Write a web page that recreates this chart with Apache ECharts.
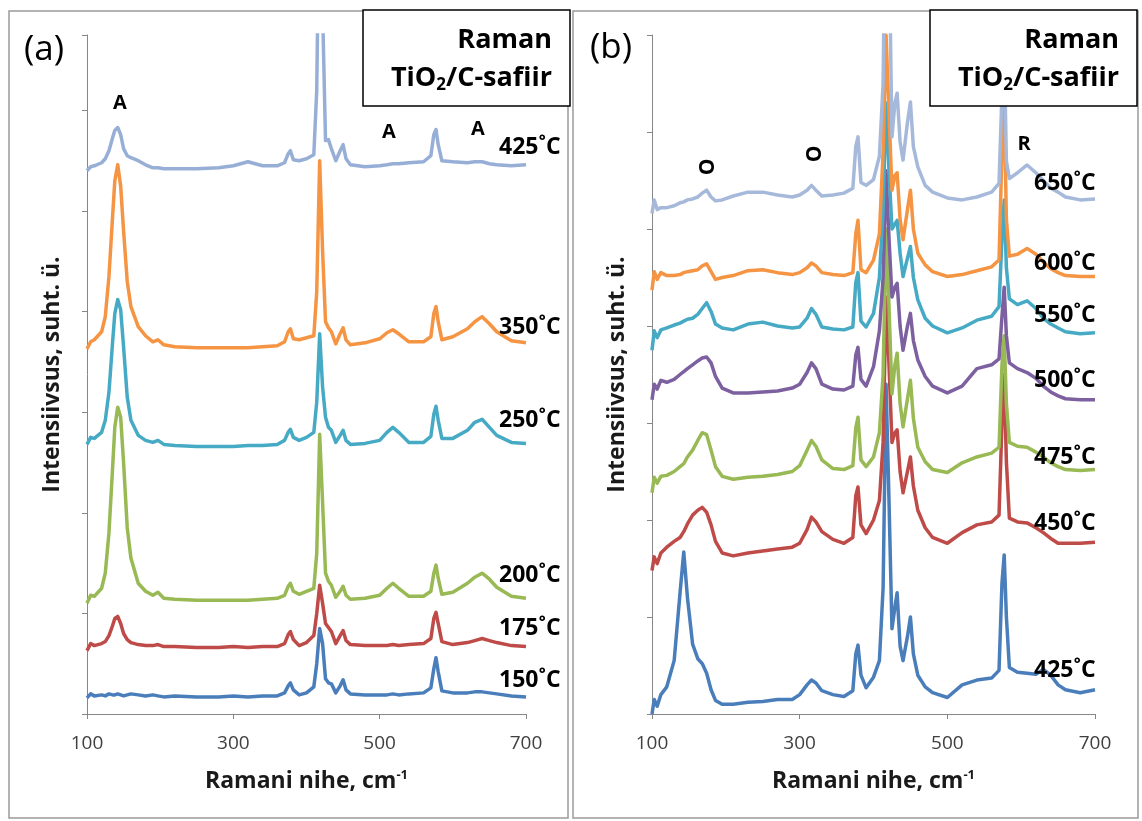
<!DOCTYPE html>
<html><head><meta charset="utf-8">
<script src="https://cdn.jsdelivr.net/npm/echarts@6/dist/echarts.min.js"></script>
<style>html,body{margin:0;padding:0;background:#fff}#c{width:1142px;height:821px}</style>
</head><body><div id="c"></div>
<script>
// ---------- Panel (a) data ----------
const xA = [100,105,110,120,125,130,135,138,142,146,150,155,160,170,180,190,197,205,220,250,280,300,320,340,360,370,375,378,382,390,400,410,414,418,422,426,430,434,440,446,450,454,460,480,500,510,518,526,540,560,570,574,577,580,585,600,620,630,640,650,660,680,700];
const a150 = [0.16,0.20,0.18,0.19,0.18,0.20,0.19,0.19,0.20,0.19,0.18,0.19,0.20,0.19,0.18,0.19,0.18,0.17,0.18,0.17,0.17,0.18,0.17,0.18,0.18,0.21,0.28,0.31,0.24,0.19,0.21,0.27,0.50,0.85,0.70,0.35,0.31,0.30,0.21,0.28,0.34,0.24,0.20,0.19,0.19,0.19,0.20,0.19,0.20,0.21,0.26,0.45,0.56,0.42,0.23,0.21,0.21,0.22,0.22,0.21,0.20,0.18,0.17];
const a175 = [0.63,0.70,0.68,0.70,0.72,0.78,0.88,0.95,0.97,0.90,0.80,0.74,0.71,0.69,0.68,0.68,0.69,0.67,0.67,0.66,0.66,0.67,0.66,0.67,0.67,0.70,0.79,0.82,0.74,0.68,0.71,0.78,1.00,1.28,1.10,0.90,0.86,0.82,0.70,0.78,0.83,0.73,0.69,0.68,0.68,0.68,0.69,0.68,0.69,0.70,0.75,0.95,1.01,0.90,0.72,0.69,0.71,0.73,0.75,0.73,0.71,0.68,0.67];
const a200 = [1.10,1.18,1.17,1.25,1.40,1.80,2.45,2.85,3.05,2.95,2.50,1.85,1.55,1.30,1.22,1.18,1.21,1.15,1.14,1.13,1.13,1.13,1.13,1.14,1.15,1.18,1.27,1.30,1.22,1.19,1.22,1.25,1.60,2.78,2.10,1.40,1.32,1.28,1.16,1.22,1.27,1.18,1.14,1.15,1.18,1.25,1.30,1.25,1.17,1.17,1.22,1.40,1.48,1.35,1.19,1.21,1.30,1.36,1.40,1.34,1.26,1.17,1.15];
const a250 = [2.68,2.75,2.74,2.80,2.92,3.20,3.70,3.98,4.12,4.02,3.65,3.15,2.92,2.77,2.72,2.70,2.72,2.68,2.67,2.66,2.66,2.66,2.67,2.67,2.68,2.72,2.80,2.83,2.75,2.72,2.75,2.80,3.10,3.78,3.25,2.95,2.85,2.82,2.70,2.77,2.82,2.72,2.68,2.69,2.72,2.80,2.85,2.80,2.70,2.70,2.76,2.98,3.06,2.92,2.74,2.74,2.82,2.90,2.93,2.85,2.77,2.70,2.69];
const a350 = [3.63,3.70,3.72,3.80,3.95,4.35,4.95,5.30,5.46,5.25,4.80,4.30,4.05,3.85,3.76,3.70,3.72,3.67,3.65,3.64,3.64,3.64,3.64,3.65,3.66,3.70,3.80,3.83,3.73,3.72,3.74,3.76,4.20,5.50,4.60,3.90,3.84,3.80,3.68,3.78,3.84,3.72,3.67,3.69,3.73,3.79,3.82,3.78,3.70,3.70,3.75,3.98,4.05,3.90,3.72,3.75,3.83,3.90,3.95,3.88,3.80,3.71,3.69];
const a425 = [5.40,5.44,5.45,5.48,5.52,5.60,5.73,5.80,5.83,5.76,5.62,5.55,5.53,5.50,5.46,5.43,5.43,5.42,5.42,5.42,5.43,5.45,5.49,5.45,5.45,5.48,5.57,5.60,5.51,5.50,5.52,5.56,6.20,8.50,7.00,5.70,5.71,5.62,5.50,5.60,5.66,5.52,5.46,5.44,5.45,5.46,5.47,5.47,5.48,5.49,5.55,5.76,5.81,5.66,5.50,5.49,5.48,5.49,5.49,5.47,5.46,5.45,5.46];
const namesA = ['150˚C','175˚C','200˚C','250˚C','350˚C','425˚C'];

// ---------- Panel (b) data ----------
const xB = [100,103,107,112,120,130,138,143,148,155,162,168,174,180,186,195,210,230,250,270,290,300,310,316,322,330,345,360,372,376,379,383,390,400,408,413,417,421,425,429,432,436,440,446,450,454,460,470,480,500,520,540,560,570,574,577,580,584,595,608,620,630,640,650,660,680,700];
const b425 = [0.00,0.15,0.08,0.20,0.28,0.55,1.25,1.67,1.20,0.72,0.57,0.52,0.42,0.25,0.14,0.10,0.10,0.12,0.13,0.15,0.15,0.20,0.30,0.35,0.32,0.24,0.20,0.18,0.24,0.62,0.71,0.40,0.27,0.38,0.55,1.30,3.40,2.20,0.88,1.10,1.25,0.70,0.55,0.80,1.00,0.62,0.40,0.28,0.22,0.17,0.30,0.35,0.37,0.45,1.35,1.64,1.00,0.48,0.43,0.42,0.41,0.46,0.40,0.30,0.25,0.22,0.25];
const b450 = [1.48,1.62,1.55,1.66,1.72,1.78,1.82,1.88,1.96,2.05,2.10,2.13,2.08,1.95,1.78,1.66,1.63,1.66,1.68,1.70,1.72,1.76,1.90,2.03,1.98,1.88,1.80,1.76,1.82,2.25,2.34,1.95,1.86,2.00,2.20,2.80,4.30,3.60,2.80,2.90,2.93,2.50,2.28,2.50,2.65,2.35,2.10,1.92,1.82,1.76,1.87,1.95,1.98,2.05,3.00,3.50,2.60,2.02,1.98,1.97,1.92,1.87,1.81,1.76,1.76,1.76,1.77];
const b475 = [2.28,2.44,2.38,2.45,2.46,2.50,2.55,2.58,2.65,2.72,2.82,2.90,2.88,2.72,2.55,2.45,2.42,2.44,2.45,2.47,2.50,2.56,2.72,2.82,2.76,2.62,2.53,2.52,2.56,2.95,3.06,2.62,2.55,2.65,2.90,3.50,5.00,4.20,3.30,3.60,3.72,3.20,2.96,3.25,3.44,3.05,2.75,2.60,2.52,2.49,2.59,2.65,2.69,2.75,3.60,3.90,3.20,2.80,2.76,2.75,2.70,2.65,2.59,2.55,2.52,2.51,2.52];
const b500 = [3.24,3.40,3.35,3.44,3.42,3.45,3.50,3.53,3.56,3.60,3.64,3.67,3.68,3.62,3.48,3.36,3.31,3.31,3.32,3.33,3.36,3.40,3.52,3.62,3.56,3.40,3.35,3.34,3.38,3.70,3.78,3.45,3.38,3.58,3.95,4.50,5.60,4.90,4.30,4.40,4.44,4.00,3.75,4.00,4.13,3.85,3.65,3.48,3.38,3.31,3.38,3.56,3.60,3.66,4.10,4.40,3.90,3.62,3.56,3.52,3.46,3.38,3.32,3.28,3.25,3.24,3.24];
const b550 = [3.75,3.95,3.88,3.96,3.98,4.01,4.03,4.05,4.07,4.08,4.12,4.18,4.24,4.15,4.02,3.98,3.96,4.02,4.04,4.00,3.98,3.99,4.08,4.18,4.12,3.99,3.97,3.96,3.99,4.45,4.55,4.05,3.99,4.13,4.50,5.20,6.30,5.60,5.00,5.05,5.09,4.75,4.51,4.70,4.82,4.50,4.27,4.08,4.00,3.93,3.98,4.06,4.10,4.20,4.90,5.30,4.60,4.28,4.22,4.26,4.18,4.08,4.02,3.98,3.94,3.92,3.93];
const b600 = [4.37,4.56,4.48,4.55,4.52,4.52,4.53,4.55,4.56,4.57,4.58,4.62,4.64,4.56,4.48,4.50,4.52,4.57,4.58,4.55,4.53,4.55,4.60,4.65,4.62,4.55,4.53,4.52,4.55,4.95,5.09,4.58,4.55,4.68,4.95,5.80,7.00,6.20,5.40,5.55,5.58,5.10,4.89,5.20,5.40,5.00,4.75,4.63,4.56,4.51,4.53,4.57,4.61,4.68,5.80,6.30,5.10,4.72,4.74,4.80,4.74,4.66,4.59,4.55,4.52,4.51,4.51];
const b650 = [5.16,5.30,5.20,5.22,5.22,5.24,5.27,5.28,5.30,5.31,5.33,5.37,5.40,5.33,5.29,5.30,5.34,5.38,5.38,5.35,5.33,5.35,5.40,5.45,5.40,5.34,5.35,5.37,5.42,5.85,5.95,5.48,5.45,5.51,5.75,6.50,9.00,8.00,5.95,6.30,6.40,5.90,5.71,6.10,6.31,5.85,5.64,5.45,5.38,5.32,5.30,5.33,5.38,5.47,6.40,6.90,5.70,5.52,5.58,5.66,5.58,5.50,5.42,5.38,5.33,5.30,5.31];
const namesB = ['425˚C','450˚C','475˚C','500˚C','550˚C','600˚C','650˚C'];

const xTicks = [100, 300, 500, 700];
const FONT = '"Open Sans", Lato, sans-serif';

const colA = ['#4A7EBB','#BE4B48','#98B954','#46AAC5','#F59443','#97AFD6'];
const colB = ['#4A7EBB','#BE4B48','#98B954','#7D60A0','#46AAC5','#F59443','#A7B9DA'];

function pairs(xs, ys){ return xs.map((x,i)=>[x, ys[i]]); }

const seriesA = [a150,a175,a200,a250,a350,a425].map((ys,i)=>({
  type:'line', name:namesA[i], xAxisIndex:0, yAxisIndex:0, data:pairs(xA,ys),
  showSymbol:false, symbol:'none', lineStyle:{width:3.5, color:colA[i], join:'round'}, itemStyle:{color:colA[i]}, clip:true, animation:false
}));
const seriesB = [b425,b450,b475,b500,b550,b600,b650].map((ys,i)=>({
  type:'line', name:namesB[i], xAxisIndex:1, yAxisIndex:1, data:pairs(xB,ys),
  showSymbol:false, symbol:'none', lineStyle:{width:3.5, color:colB[i], join:'round'}, itemStyle:{color:colB[i]}, clip:true, animation:false
}));

function xAxisCfg(gi){
  return {type:'value', gridIndex:gi, min:100, max:700, interval:200,
    axisLine:{lineStyle:{color:'#878787', width:1}}, axisTick:{show:true, length:5, lineStyle:{color:'#878787'}},
    splitLine:{show:false},
    axisLabel:{color:'#404040', fontFamily:FONT, fontSize:19, margin:20, customValues: xTicks},
    name:'Ramani nihe, cm{sup|-1}', nameLocation:'middle', nameGap:55,
    nameTextStyle:{fontFamily:FONT, fontWeight:'bold', fontSize:23, color:'#1a1a1a',
      rich:{sup:{fontFamily:FONT, fontWeight:'bold', fontSize:13, color:'#1a1a1a', padding:[0,0,12,0]}}}
  };
}
function yAxisCfg(gi, max){
  return {type:'value', gridIndex:gi, min:0, max:max, interval:1,
    axisLine:{show:true, lineStyle:{color:'#878787', width:1}}, axisTick:{show:true, length:5, lineStyle:{color:'#878787'}},
    splitLine:{show:false}, axisLabel:{show:false},
    name:'Intensiivsus, suht. ü.', nameLocation:'middle', nameGap:23, nameRotate:90,
    nameTextStyle:{fontFamily:FONT, fontWeight:'bold', fontSize:23, color:'#1a1a1a'}
  };
}

function txt(x,y,text,size,opts){
  opts = opts||{};
  return {type:'text', x:x, y:y, z:100, rotation:opts.rot||0,
    style:{text:text, fill:'#000', font:(opts.bold===false?'':'bold ')+size+'px '+FONT,
      align:opts.align||'left', verticalAlign:'middle'}};
}
function boxTitle(xr){
  return [
    txt(xr,40,'Raman',27,{align:'right'}),
    {type:'text', x:xr, y:78, z:101, style:{text:'TiO{s|2}/C-safiir', fill:'#000', font:'bold 27px '+FONT, align:'right', verticalAlign:'middle',
       rich:{s:{fontFamily:FONT, fontWeight:'bold', fontSize:17, fill:'#000', padding:[14,0,0,0]}}}}
  ];
}

const graphics = [
  {type:'rect', z:0, shape:{x:9,y:11,width:559,height:807}, style:{fill:'none', stroke:'#9a9a9a', lineWidth:1.5}},
  {type:'rect', z:0, shape:{x:573,y:11,width:565,height:807}, style:{fill:'none', stroke:'#9a9a9a', lineWidth:1.5}},
  {type:'rect', z:100, shape:{x:363,y:10,width:207,height:96}, style:{fill:'#fff', stroke:'#000', lineWidth:1.5}},
  {type:'rect', z:100, shape:{x:930,y:10,width:207,height:96}, style:{fill:'#fff', stroke:'#000', lineWidth:1.5}},
  ...boxTitle(552), ...boxTitle(1119),
  txt(24,50,'(a)',35,{bold:false}),
  txt(590,48,'(b)',35,{bold:false}),
  txt(120,103,'A',20,{align:'center'}),
  txt(389,132,'A',20,{align:'center'}),
  txt(478,129,'A',20,{align:'center'}),
  txt(708,167,'O',21,{align:'center', rot:Math.PI/2}),
  txt(815,154,'O',21,{align:'center', rot:Math.PI/2}),
  txt(1024,144,'R',20,{align:'center'}),
];
const labA = [['425˚C',147],['350˚C',327],['250˚C',420],['200˚C',575],['175˚C',628],['150˚C',680]];
const labB = [['650˚C',183],['600˚C',263],['550˚C',315],['500˚C',380],['475˚C',457],['450˚C',523],['425˚C',670]];
labA.forEach(l=>graphics.push(txt(499,l[1],l[0],23)));
labB.forEach(l=>graphics.push(txt(1034,l[1],l[0],23)));

const chart = echarts.init(document.getElementById('c'), null, {renderer:'canvas'});
chart.setOption({
  backgroundColor:'#fff',
  animation:false,
  grid:[{left:87, top:35, width:439, height:679}, {left:652, top:35, width:443, height:679}],
  xAxis:[xAxisCfg(0), xAxisCfg(1)],
  yAxis:[yAxisCfg(0, 6.75), yAxisCfg(1, 7)],
  series: seriesA.concat(seriesB),
  graphic: graphics
});
</script></body></html>
